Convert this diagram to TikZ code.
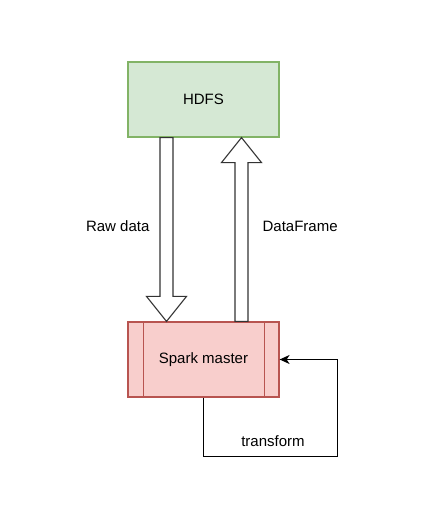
\documentclass[tikz,border=0pt]{standalone}
\usepackage{fontspec}
\setmainfont{Liberation Sans}
\usetikzlibrary{arrows.meta, positioning, calc}
\definecolor{cgreenfill}{HTML}{D5E8D4}
\definecolor{cgreenline}{HTML}{82B366}
\definecolor{credfill}{HTML}{F8CECC}
\definecolor{credline}{HTML}{B85450}
\definecolor{cline}{HTML}{333333}
\tikzset{
  every picture/.style={line width=1.2pt},
  box/.style={draw=#1line, fill=#1fill, minimum width=151pt, minimum height=75pt, inner sep=0pt},
  fat/.style={draw=cline, fill=white, line width=1.1pt, line join=miter},
  flow/.style={-{Stealth[length=10pt, width=9pt, inset=3pt]}, draw=black, line width=1.1pt},
  lbl/.style={font=\fontsize{15}{18}\selectfont, inner sep=0pt},
}

\begin{document}
\begin{tikzpicture}[x=1pt, y=1pt]
  \useasboundingbox (0,0) rectangle (445,-517);
  \node[box=cgreen, lbl] (hdfs) at (203.5,-99.5) {HDFS};
  \node[box=cred, lbl] (spark) at (203.5,-359.5) {Spark master};
  \draw[credline] ([xshift=16pt]spark.north west) -- ([xshift=16pt]spark.south west);
  \draw[credline] ([xshift=-15pt]spark.north east) -- ([xshift=-15pt]spark.south east);
  % fat arrows between the boxes
  \draw[fat] ($(hdfs.south)+(-43.5,0)$) -- ($(spark.north)+(-43.5,25)$) -- ($(spark.north)+(-57,25)$)
    -- ($(spark.north)+(-37,0)$) -- ($(spark.north)+(-17,25)$) -- ($(spark.north)+(-30.5,25)$)
    -- ($(hdfs.south)+(-30.5,0)$) -- cycle;
  \draw[fat] ($(spark.north)+(31.5,0)$) -- ($(hdfs.south)+(31.5,-25)$) -- ($(hdfs.south)+(18,-25)$)
    -- ($(hdfs.south)+(38,0)$) -- ($(hdfs.south)+(58,-25)$) -- ($(hdfs.south)+(44.5,-25)$)
    -- ($(spark.north)+(44.5,0)$) -- cycle;
  \node[lbl, anchor=east] (raw) at (150,-226) {Raw data};
  \node[lbl, anchor=west] (df) at (262,-226) {DataFrame};
  % loop back into the master
  \draw[flow] (spark.south) -- ++(0,-59) coordinate (turn) -| ([xshift=58pt]spark.east) -- (spark.east);
  \node[lbl] (tf) at (273,-441) {transform};
\end{tikzpicture}
\end{document}
